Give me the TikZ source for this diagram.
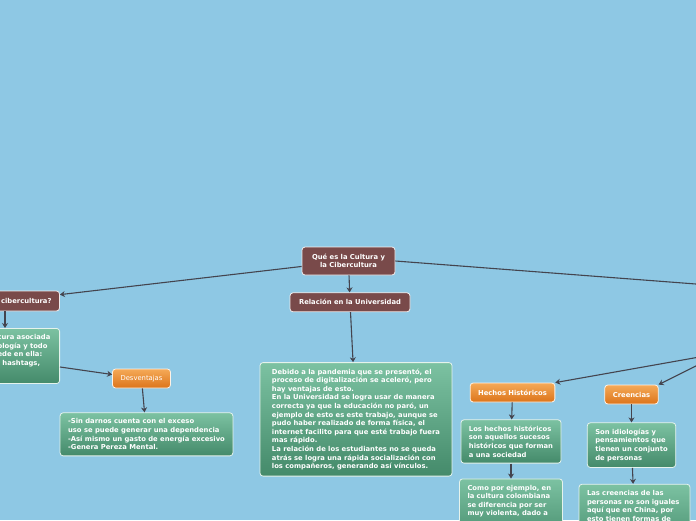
\documentclass[tikz,border=0pt]{standalone}
\usepackage{fontspec}
\setmainfont{DejaVu Sans}
\usetikzlibrary{positioning, arrows.meta}
\definecolor{skybg}{RGB}{142,200,228}
\definecolor{mmbrown}{RGB}{121,74,74}
\definecolor{mmorangetop}{RGB}{245,170,88}
\definecolor{mmorangebot}{RGB}{220,116,26}
\definecolor{mmgreentop}{RGB}{124,194,162}
\definecolor{mmgreenbot}{RGB}{68,138,106}
\definecolor{mmline}{RGB}{68,68,78}

\begin{document}
\begin{tikzpicture}[x=1pt, y=-1pt,
  topic/.style={rectangle, rounded corners=3pt, draw=white!90!mmbrown, line width=0.8pt,
                fill=mmbrown, text=white, align=center, inner xsep=8pt, inner ysep=3pt,
                font=\fontsize{6.8}{8.4}\selectfont\bfseries},
  sub/.style={rectangle, rounded corners=3pt, draw=white!85!mmorangetop, line width=0.8pt,
              top color=mmorangetop, bottom color=mmorangebot, text=white, inner xsep=8pt,
              minimum height=19pt, font=\fontsize{6.8}{8.4}\selectfont\bfseries},
  note/.style={rectangle, rounded corners=3pt, draw=white!80!mmgreentop, line width=0.8pt,
               top color=mmgreentop, bottom color=mmgreenbot, text=white, align=left,
               inner xsep=8pt, inner ysep=6pt,
               font=\fontsize{6.8}{8.6}\selectfont\bfseries},
  arr/.style={-{Stealth[length=5pt, width=6pt]}, line width=1.1pt, draw=mmline}
]
  \useasboundingbox (0,0) rectangle (696,520);
  \clip (0,0) rectangle (696,520);
  \fill[skybg] (0,0) rectangle (696,520);

  % centre and its branches
  \node[topic, minimum width=93pt, minimum height=28pt] (main) at (348.5,261)
       {Qué es la Cultura y\\la Cibercultura};
  \node[topic, minimum width=120pt, minimum height=19pt, below=17pt of main, xshift=1.5pt] (univ)
       {Relación en la Universidad};
  \node[topic, text width=93pt, align=right, minimum height=20pt] (cibe) at (5,301)
       {cibercultura?};
  \coordinate (cultura) at (722,286);
  \coordinate (culturaout) at (722,353);

  % left branch
  \node[note, text width=54pt, text depth=38pt, anchor=north east] (cibetxt) at (60,328)
       {cura asociada\\ología y todo\\ede en ella:\\, hashtags,};
  \node[sub, font=\fontsize{6.8}{8.4}\selectfont] (desv) at (141.5,378.5) {Desventajas};
  \node[note, below=24pt of desv, xshift=5pt] (desvtxt)
       {-Sin darnos cuenta con el exceso\\
        uso se puede generar una dependencia\\
        -Así mismo un gasto de energía excesivo\\
        -Genera Pereza Mental.};

  % university
  \node[note, minimum width=192pt, below=50pt of univ, xshift=6pt] (pand)
       {Debido a la pandemia que se presentó, el\\
        proceso de digitalización se aceleró, pero\\
        hay ventajas de esto.\\
        En la Universidad se logra usar de manera\\
        correcta ya que la educación no paró, un\\
        ejemplo de esto es este trabajo, aunque se\\
        pudo haber realizado de forma física, el\\
        internet facilito para que esté trabajo fuera\\
        mas rápido.\\
        La relación de los estudiantes no se queda\\
        atrás se logra una rápida socialización con\\
        los compañeros, generando así vínculos.};

  % right branch
  \node[sub] (hechos) at (512.5,392.5) {Hechos Históricos};
  \node[note, below=17pt of hechos, xshift=-1.5pt] (hechos1)
       {Los hechos históricos\\son aquellos sucesos\\históricos que forman\\a una sociedad};
  \node[note, text width=87pt, text depth=50pt, below=15pt of hechos1] (hechos2)
       {Como por ejemplo, en\\la cultura colombiana\\se diferencia por ser\\muy violenta, dado a};
  \node[sub] (creen) at (631.5,394.5) {Creencias};
  \node[note, below=18pt of creen] (creen1)
       {Son idiologías y\\pensamientos que\\tienen un conjunto\\de personas};
  \node[note, text width=95pt, text depth=50pt, below=16pt of creen1, xshift=3pt] (creen2)
       {Las creencias de las\\personas no son iguales\\aquí que en China, por\\esto tienen formas de};

  \draw[arr] (main) -- (cibe);
  \draw[arr] (main) -- (univ);
  \draw[arr] (main.east) -- (cultura);
  \draw[arr] (cibe.south) -- (cibe.south |- cibetxt.north);
  \draw[arr] ([yshift=-11pt]cibetxt.east) -- ([yshift=4pt]desv.west);
  \draw[arr] (desv) -- (desvtxt);
  \draw[arr] (univ) -- (pand);
  \draw[arr] (culturaout) -- (hechos.north east);
  \draw[arr] (culturaout) -- (creen.north east);
  \draw[arr] (hechos) -- (hechos1);
  \draw[arr] (hechos1) -- (hechos2);
  \draw[arr] (creen) -- (creen1);
  \draw[arr] (creen1) -- (creen2);
\end{tikzpicture}
\end{document}
